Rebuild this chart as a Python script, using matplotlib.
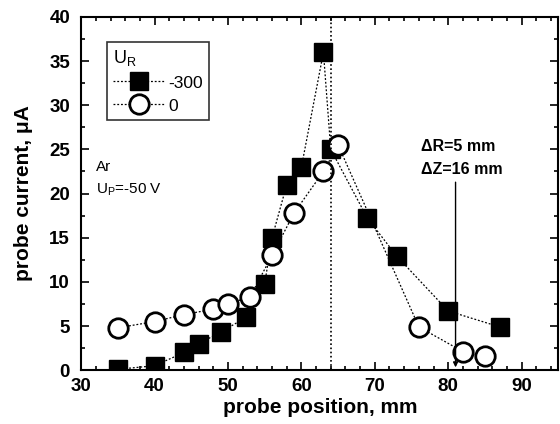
import matplotlib.pyplot as plt
from matplotlib.ticker import MultipleLocator

plt.rcParams['font.family'] = ['Liberation Sans', 'DejaVu Sans']

# U_R = -300 (filled squares)
x_sq = [35, 40, 44, 46, 49, 52.5, 55, 56, 58, 60, 63, 64, 69, 73, 80, 87]
y_sq = [0.1, 0.5, 2.0, 3.0, 4.3, 6.0, 9.8, 15.0, 21.0, 23.0, 36.0, 25.0, 17.2, 12.9, 6.7, 4.9]

# U_R = 0 (open circles)
x_ci = [35, 40, 44, 48, 50, 53, 56, 59, 63, 65, 76, 82, 85]
y_ci = [4.8, 5.5, 6.3, 6.9, 7.5, 8.3, 13.0, 17.8, 22.5, 25.5, 4.9, 2.1, 1.6]

legend_labels = ['-300', '0']
x_center = 64
x_arrow = 81
arrow_top = 21.6

fig = plt.figure(figsize=(5.6, 4.24), dpi=100)
ax = fig.add_axes([0.145, 0.127, 0.852, 0.833])

ax.plot(x_sq, y_sq, linestyle=(0, (1.5, 1.5)), color='black', lw=0.9,
        marker='s', ms=13, mfc='black', mec='black', label=legend_labels[0])
ax.plot(x_ci, y_ci, linestyle=(0, (1.5, 1.5)), color='black', lw=0.9,
        marker='o', ms=14, mfc='white', mec='black', mew=2, label=legend_labels[1])

ax.axvline(x_center, color='black', lw=1.2, linestyle=(0, (1, 1.5)))
ax.annotate('', xy=(x_arrow, 0), xytext=(x_arrow, arrow_top),
            arrowprops=dict(arrowstyle='-|>', color='black', lw=1, mutation_scale=7))

ax.text(32.0, 22.6, 'Ar', fontsize=11)
ax.text(32.0, 20.0, r'U$_\mathregular{P}$=-50 V', fontsize=11)
ax.text(76.3, 24.8, '\u0394R=5 mm', fontsize=11.5, fontweight='bold')
ax.text(76.3, 22.2, '\u0394Z=16 mm', fontsize=11.5, fontweight='bold')

ax.set_xlim(30, 95)
ax.set_ylim(0, 40)
ax.xaxis.set_major_locator(MultipleLocator(10))
ax.xaxis.set_minor_locator(MultipleLocator(2))
ax.yaxis.set_major_locator(MultipleLocator(5))
ax.yaxis.set_minor_locator(MultipleLocator(2.5))
ax.tick_params(which='both', direction='in', top=True, right=True, width=1.2)
ax.tick_params(which='major', length=6, labelsize=13.5)
ax.tick_params(which='minor', length=3)
ax.tick_params(axis='x', which='major', pad=6)
ax.tick_params(axis='y', which='major', pad=8)
for lab in ax.get_xticklabels() + ax.get_yticklabels():
    lab.set_fontweight('bold')
for s in ax.spines.values():
    s.set_linewidth(1.5)

ax.set_xlabel('probe position, mm', fontsize=15, fontweight='bold', labelpad=2)
ax.set_ylabel('probe current, \u03bcA', fontsize=15, fontweight='bold', labelpad=12)

leg = ax.legend(title=r'U$_\mathregular{R}$', loc='upper left', bbox_to_anchor=(0.035, 0.955),
                fontsize=12.5, title_fontsize=13, frameon=True, fancybox=False,
                edgecolor='black', handlelength=3.0, handletextpad=0.2, borderpad=0.35,
                labelspacing=0.45, alignment='left')
leg.get_frame().set_linewidth(1.2)

fig.savefig('out.png', dpi=100)
